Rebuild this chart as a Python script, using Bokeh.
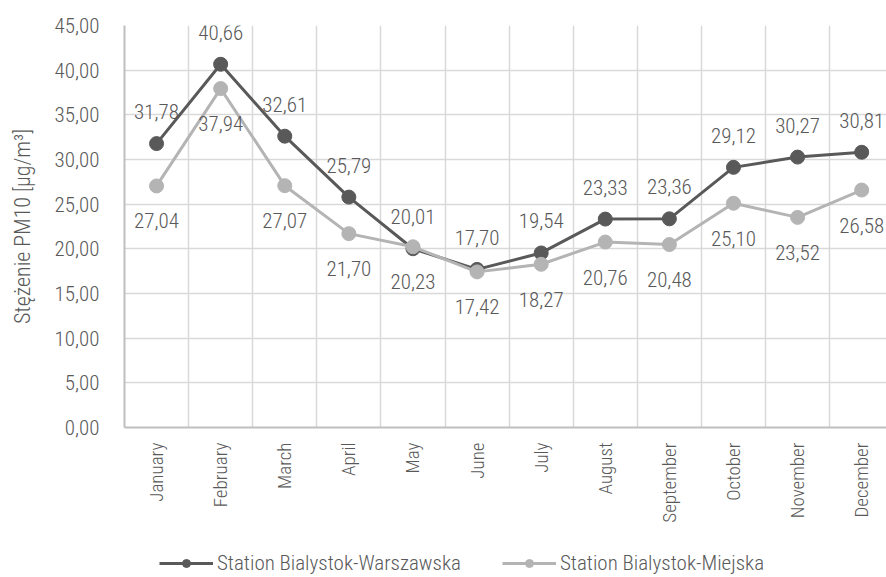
import math
from bokeh.plotting import figure
from bokeh.layouts import column
from bokeh.models import FixedTicker, Legend, LegendItem, ColumnDataSource, Range1d
from bokeh.core.properties import value
from bokeh.embed import file_html
from bokeh.resources import INLINE

months = ["January", "February", "March", "April", "May", "June", "July",
          "August", "September", "October", "November", "December"]
warszawska = [31.78, 40.66, 32.61, 25.79, 20.01, 17.70, 19.54, 23.33, 23.36, 29.12, 30.27, 30.81]
miejska = [27.04, 37.94, 27.07, 21.70, 20.23, 17.42, 18.27, 20.76, 20.48, 25.10, 23.52, 26.58]
y_ticks = [0, 5, 10, 15, 20, 25, 30, 35, 40, 45]
y_tick_labels = ["0,00", "5,00", "10,00", "15,00", "20,00", "25,00", "30,00", "35,00", "40,00", "45,00"]
series_names = ["Station Bialystok-Warszawska", "Station Bialystok-Miejska"]

FONT = "Roboto Condensed Light"
TEXT = "#595959"
DARK = "#595959"
LIGHT = "#b4b4b4"
GRID = "#d9d9d9"
AXIS = "#bfbfbf"

xs = list(range(len(months)))


def fmt(v):
    return f"{v:.2f}".replace(".", ",")


src_w = ColumnDataSource(dict(x=xs, y=warszawska, lab=[fmt(v) for v in warszawska]))
src_m = ColumnDataSource(dict(x=xs, y=miejska, lab=[fmt(v) for v in miejska]))

p = figure(width=886, height=545,
           x_range=Range1d(-0.5, 11.387), y_range=Range1d(0, 45),
           output_backend="svg", toolbar_location=None,
           min_border_left=124, min_border_top=25, min_border_bottom=118, min_border_right=0)
p.outline_line_color = None
p.background_fill_color = "white"

# grids
p.xgrid.ticker = FixedTicker(ticks=[i - 0.5 for i in range(len(months) + 1)])
p.xgrid.grid_line_color = GRID
p.xgrid.grid_line_width = 1.5
p.ygrid.ticker = FixedTicker(ticks=y_ticks)
p.ygrid.grid_line_color = GRID
p.ygrid.grid_line_width = 1.5

# x axis
p.xaxis.ticker = FixedTicker(ticks=xs)
p.xaxis.major_label_overrides = {i: m for i, m in zip(xs, months)}
p.xaxis.major_label_orientation = math.pi / 2
p.xaxis.major_label_text_font = FONT
p.xaxis.major_label_text_font_size = "19px"
p.xaxis.major_label_text_color = TEXT
p.xaxis.major_label_standoff = 15
p.xaxis.major_tick_line_color = None
p.xaxis.minor_tick_line_color = None
p.xaxis.major_tick_out = 0
p.xaxis.major_tick_in = 0
p.xaxis.axis_line_color = AXIS
p.xaxis.axis_line_width = 2

# y axis
p.yaxis.ticker = FixedTicker(ticks=y_ticks)
p.yaxis.major_label_overrides = {t: l for t, l in zip(y_ticks, y_tick_labels)}
p.yaxis.major_label_text_font = FONT
p.yaxis.major_label_text_font_size = "21px"
p.yaxis.major_label_text_color = TEXT
p.yaxis.major_label_standoff = 25
p.yaxis.major_tick_line_color = None
p.yaxis.minor_tick_line_color = None
p.yaxis.major_tick_out = 0
p.yaxis.major_tick_in = 0
p.yaxis.axis_line_color = AXIS
p.yaxis.axis_line_width = 2
p.yaxis.axis_label = "Stężenie PM10 [µg/m³]"
p.yaxis.axis_label_text_font = FONT
p.yaxis.axis_label_text_font_size = "22px"
p.yaxis.axis_label_text_font_style = "normal"
p.yaxis.axis_label_text_color = TEXT
p.yaxis.axis_label_standoff = 17

# series
p.line("x", "y", source=src_w, line_color=DARK, line_width=3)
p.scatter("x", "y", source=src_w, size=14, fill_color=DARK, line_color=DARK)
p.line("x", "y", source=src_m, line_color=LIGHT, line_width=3)
p.scatter("x", "y", source=src_m, size=14, fill_color=LIGHT, line_color=LIGHT)

# data labels
p.text("x", "y", text="lab", source=src_w, text_align="center", text_baseline="middle",
       y_offset=-32, text_font=value(FONT), text_font_size="21px", text_color=TEXT)
p.text("x", "y", text="lab", source=src_m, text_align="center", text_baseline="middle",
       y_offset=35, text_font=value(FONT), text_font_size="21px", text_color=TEXT)

# legend strip (frame aligned with the main plot's frame by the column layout)
q = figure(width=886, height=32, x_range=Range1d(0, 1), y_range=Range1d(0, 1),
           output_backend="svg", toolbar_location=None, x_axis_type=None, y_axis_type=None,
           min_border=0)
q.outline_line_color = None
q.xgrid.visible = False
q.ygrid.visible = False
offscreen = dict(x=[5], y=[5])
l1 = q.line("x", "y", source=ColumnDataSource(offscreen), line_color=DARK, line_width=3)
s1 = q.scatter("x", "y", source=ColumnDataSource(offscreen), size=12, fill_color=DARK, line_color=DARK)
l2 = q.line("x", "y", source=ColumnDataSource(offscreen), line_color=LIGHT, line_width=3)
s2 = q.scatter("x", "y", source=ColumnDataSource(offscreen), size=12, fill_color=LIGHT, line_color=LIGHT)
legend = Legend(items=[LegendItem(label=series_names[0], renderers=[l1, s1]),
                       LegendItem(label=series_names[1], renderers=[l2, s2])],
                orientation="horizontal", location=(35, 2),
                padding=0, margin=0, spacing=41, glyph_width=54, glyph_height=20,
                label_height=20, label_standoff=4,
                label_text_font=FONT, label_text_font_size="21px", label_text_color=TEXT,
                border_line_color=None, background_fill_alpha=0)
q.add_layout(legend, "center")

layout = column(p, q, spacing=0)
open("out.html", "w").write(file_html(layout, INLINE))
